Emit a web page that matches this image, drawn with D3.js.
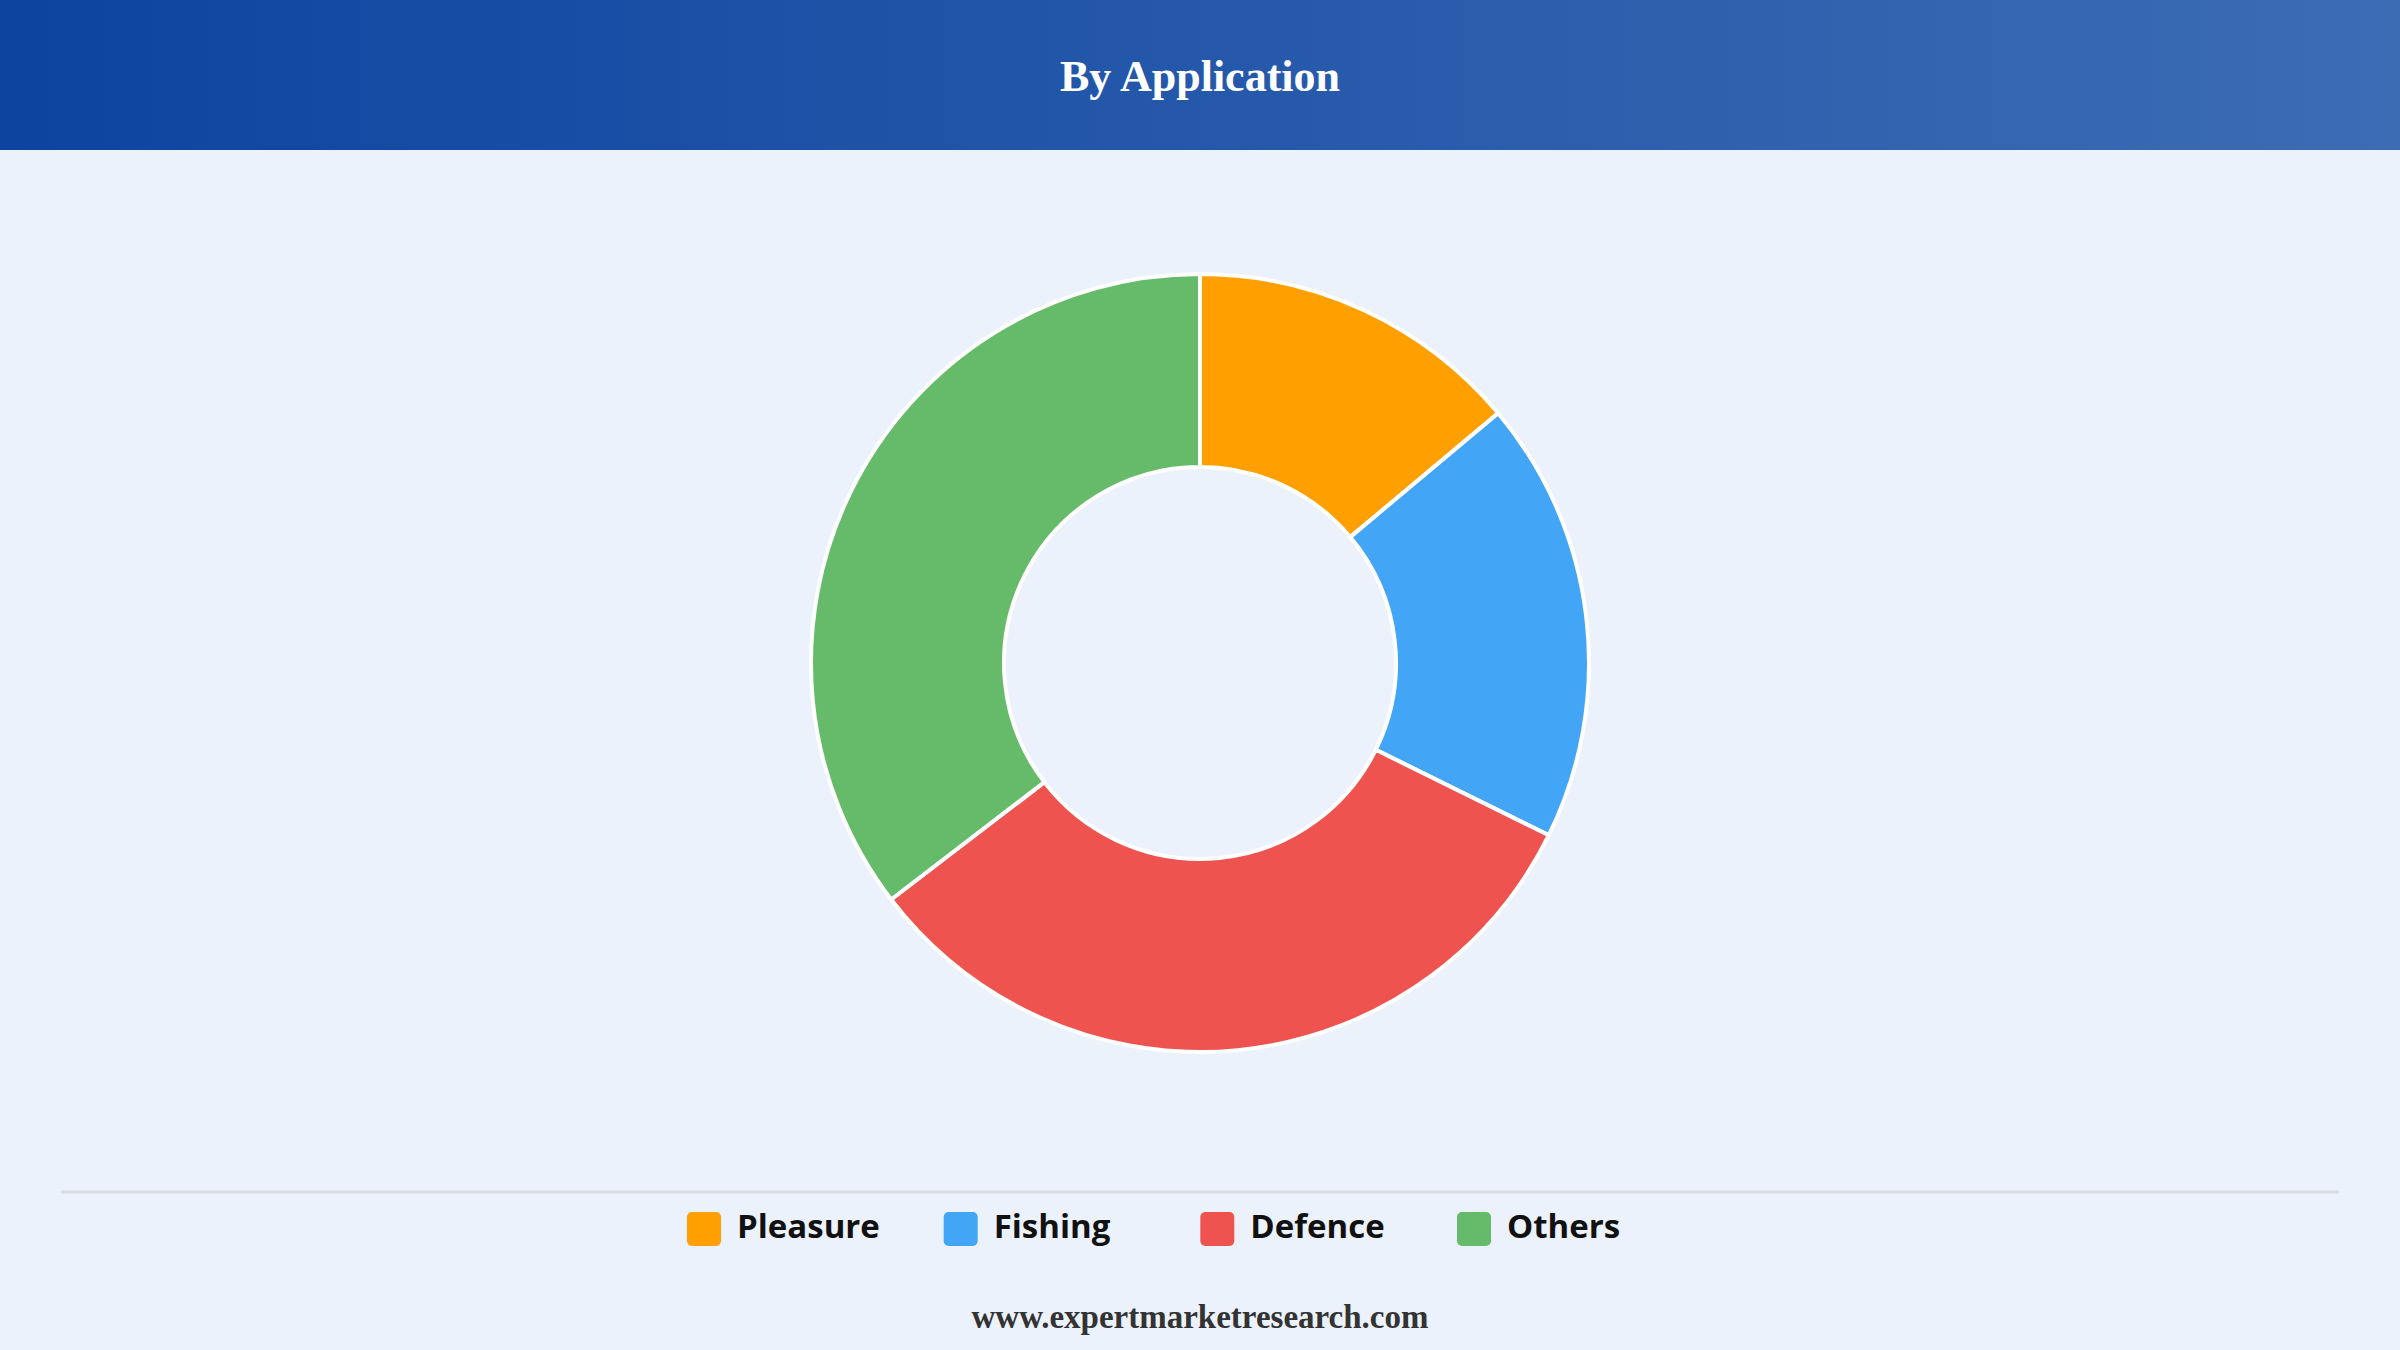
<!DOCTYPE html>
<html><head><meta charset="utf-8">
<script src="https://cdn.jsdelivr.net/npm/d3@7"></script>
<style>body{margin:0;background:#ebf2fb;}</style>
</head><body>
<svg id="chart" width="2400" height="1350"></svg>
<script>
// data
var categories = ["Pleasure", "Fishing", "Defence", "Others"];
var values = [13.9, 18.4, 32.3, 35.4];
var colors = ["#ffa000", "#42a5f5", "#ef5350", "#66bb6a"];

var svg = d3.select("#chart");
svg.append("rect").attr("width", 2400).attr("height", 1350).attr("fill", "#ebf2fb");

// header
var grad = svg.append("defs").append("linearGradient").attr("id", "hdr");
grad.append("stop").attr("offset", "0%").attr("stop-color", "#0d44a0");
grad.append("stop").attr("offset", "100%").attr("stop-color", "#3c6cb4");
svg.append("rect").attr("width", 2400).attr("height", 150).attr("fill", "url(#hdr)");
svg.append("text").attr("x", 1200).attr("y", 81).attr("text-anchor", "middle")
  .attr("dominant-baseline", "middle").attr("fill", "#fff")
  .style("font", "bold 44px 'Liberation Serif', serif").text("By Application");

// donut
var pie = d3.pie().sort(null).value(d => d);
var arc = d3.arc().innerRadius(196).outerRadius(389);
var g = svg.append("g").attr("transform", "translate(1200,663)");
g.selectAll("path").data(pie(values)).join("path")
  .attr("d", arc).attr("fill", (d, i) => colors[i])
  .attr("stroke", "#fff").attr("stroke-width", 4);

// legend
svg.append("line").attr("x1", 61).attr("x2", 2339).attr("y1", 1192).attr("y2", 1192)
  .attr("stroke", "#d8dde3").attr("stroke-width", 3);
var x = d3.scalePoint().domain(categories).range([687, 1457]);
var leg = svg.selectAll(".leg").data(categories).join("g")
  .attr("transform", d => "translate(" + x(d) + ",1229)");
leg.append("rect").attr("x", 0).attr("y", -17).attr("width", 34).attr("height", 34)
  .attr("rx", 5).attr("fill", (d, i) => colors[i]);
leg.append("text").attr("x", 50).attr("dominant-baseline", "middle")
  .attr("fill", "#111").style("font", "bold 33px 'Open Sans', sans-serif").text(d => d);

// footer
svg.append("text").attr("x", 1200).attr("y", 1320).attr("text-anchor", "middle")
  .attr("dominant-baseline", "middle").attr("fill", "#333")
  .style("font", "bold 33px 'Liberation Serif', serif").text("www.expertmarketresearch.com");
</script>
</body></html>
